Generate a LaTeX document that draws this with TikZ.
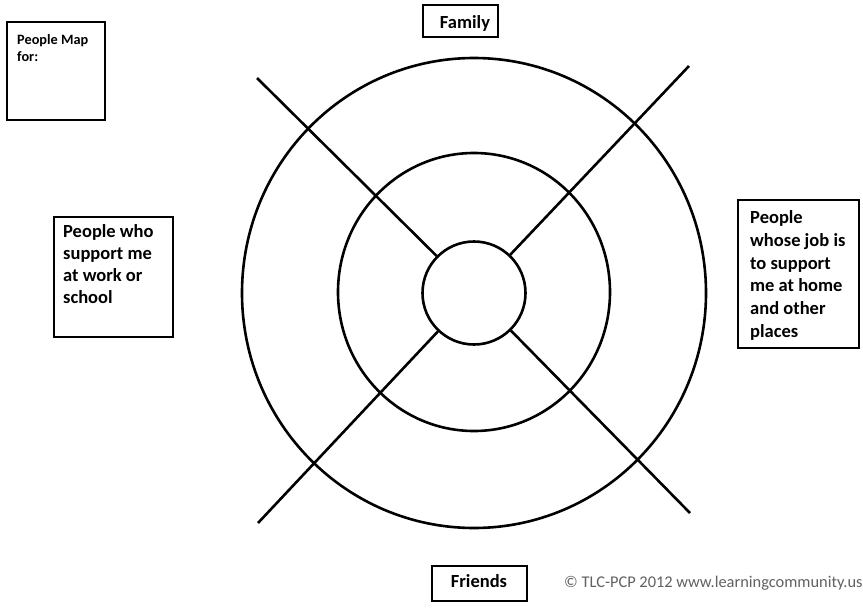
\documentclass[tikz,border=0pt]{standalone}
\usepackage{fontspec}
\usetikzlibrary{shapes.geometric}
\setmainfont{Carlito}
\begin{document}
\begin{tikzpicture}[x=1pt,y=-1pt,
  box/.style={draw=black, line width=1.2pt, inner sep=0pt},
  txt/.style={inner sep=0pt, align=left, font=\bfseries\fontsize{18.5}{22}\selectfont},
  ring/.style={draw=black, line width=2.6pt, ellipse, inner sep=0pt},
  spoke/.style={draw=black, line width=2.6pt}]
\useasboundingbox (0,0) rectangle (863,611);
\fill[white] (0,0) rectangle (863,611);
% circles
\node[ring, minimum width=464pt, minimum height=470pt] (outer) at (474,293) {};
\node[ring, minimum width=272pt, minimum height=278pt] (middle) at (474,292) {};
\node[ring, circle, minimum size=103pt] (inner) at (474,293) {};
% spoke ends
\coordinate (nw) at (257,78);
\coordinate (ne) at (689,66);
\coordinate (sw) at (258,523);
\coordinate (se) at (690,513);
\draw[spoke] (nw) -- (inner);
\draw[spoke] (ne) -- (inner);
\draw[spoke] (sw) -- (inner);
\draw[spoke] (se) -- (inner);
% boxes
\node[box, minimum width=98pt, minimum height=98pt] (mapbox) at (56,71) {};
\node[inner sep=0pt, align=left, anchor=north west, font=\bfseries\fontsize{14.3}{17}\selectfont] (maptext) at (17,34.5) {People Map\\for:};
\node[box, minimum width=75pt, minimum height=32pt] (family) at (460.5,21) {};
\node[txt, anchor=base] (familytext) at (465,28) {Family};
\node[box, minimum width=119pt, minimum height=120pt] (leftbox) at (113.5,277) {};
\node[txt, anchor=north west] (lefttext) at (63,224) {People who\\support me\\at work or\\school};
\node[box, minimum width=121pt, minimum height=148pt] (rightbox) at (798.5,274) {};
\node[txt, anchor=north west, font=\bfseries\fontsize{18.5}{22.7}\selectfont] (righttext) at (750,210.5) {People\\whose job is\\to support\\me at home\\and other\\places};
\node[box, minimum width=95pt, minimum height=35pt] (friends) at (479.5,583.5) {};
\node[txt, anchor=base] (friendstext) at (479,587) {Friends};
\node[inner sep=0pt, anchor=base west, text=black!62, font=\fontsize{16.4}{19}\selectfont] (copy) at (564,587) {© TLC-PCP 2012 www.learningcommunity.us};
\end{tikzpicture}
\end{document}
